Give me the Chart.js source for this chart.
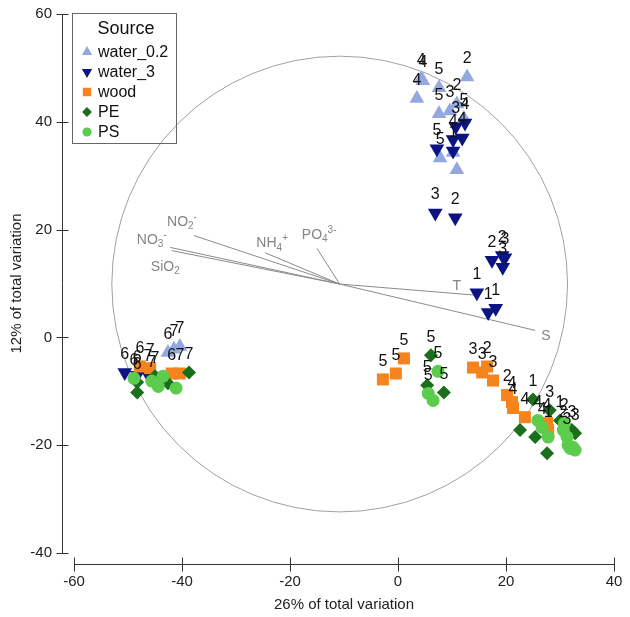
<!DOCTYPE html>
<html>
<head>
<meta charset="utf-8">
<script src="https://cdn.jsdelivr.net/npm/chart.js@4.4.1/dist/chart.umd.min.js"></script>
<style>
  html, body { margin: 0; padding: 0; background: #fff; }
  canvas { display: block; }
</style>
</head>
<body>
<canvas id="pcaChart" width="630" height="617"></canvas>
<script>
// sample scores: [axis1, axis2, sample id]
const water02 = [
  [12.8, 48.3, "2"], [4.6, 47.6, "4"], [4.3, 48.0, "4"], [3.5, 44.3, "4"],
  [7.6, 46.3, "5"], [7.6, 41.5, "5"], [9.6, 42.0, "3"], [10.9, 43.3, "2"],
  [12.2, 40.6, "5"], [7.8, 33.3, "5"], [10.2, 34.3, ""], [10.9, 31.1, ""],
  [-42.6, -2.8, "6"], [-41.5, -2.2, "7"], [-40.4, -1.7, "7"]
];
const water3 = [
  [12.4, 39.8, "4"], [10.7, 39.1, "3"], [11.9, 37.0, "4"], [10.2, 36.7, "4"],
  [7.2, 35.0, "5"], [10.2, 34.6, "1"],
  [6.9, 23.1, "3"], [10.6, 22.2, "2"], [17.4, 14.3, "2"], [19.3, 15.2, "2"],
  [19.8, 14.8, "3"], [19.4, 13.0, "3"], [14.6, 8.3, "1"], [16.7, 4.6, "1"],
  [18.1, 5.4, "1"],
  [-50.6, -6.5, "6"], [-48.3, -7.0, "6"], [-46.3, -6.9, "7"]
];
const wood = [
  [-47.8, -5.4, "6"], [-45.9, -5.7, "7"], [-41.9, -6.7, "6"], [-40.4, -6.7, "7"],
  [-2.8, -7.8, "5"], [-0.4, -6.7, "5"], [1.1, -3.9, "5"],
  [13.9, -5.6, "3"], [15.6, -6.5, "3"], [16.5, -5.4, "2"], [17.6, -8.0, "3"],
  [20.2, -10.7, "2"], [21.1, -12.0, "4"], [21.3, -13.1, "4"], [23.5, -14.8, "4"],
  [27.6, -15.9, "4"], [27.8, -17.2, "1"]
];
const pe = [
  [-48.3, -8.3, "6"], [-48.3, -10.2, ""], [-42.6, -8.5, ""], [-38.7, -6.5, "7"],
  [-45.0, -7.2, "7"],
  [6.1, -3.3, "5"], [5.4, -8.9, "5"], [8.5, -10.2, "5"],
  [25.0, -11.5, "1"], [22.6, -17.2, ""], [25.4, -18.5, ""], [27.6, -21.5, ""],
  [28.1, -13.5, "3"], [30.0, -15.4, "1"], [32.2, -17.2, "3"], [32.8, -17.8, "3"]
];
const ps = [
  [-48.9, -7.6, "6"], [-45.6, -8.1, "7"], [-44.4, -9.1, ""], [-43.5, -7.2, ""],
  [-41.1, -9.4, ""],
  [7.4, -6.3, "5"], [5.6, -10.4, "5"], [6.5, -11.7, ""],
  [25.9, -15.4, "4"], [26.7, -16.7, "4"], [27.8, -18.5, ""], [30.6, -17.2, "2"],
  [31.3, -18.5, "3"], [31.5, -20.0, ""], [31.9, -20.6, ""], [32.4, -20.4, ""],
  [32.8, -20.9, ""], [30.8, -16.0, "2"]
];

const groupNames = ["water_0.2", "water_3", "wood", "PE", "PS"];
const groupData = [water02, water3, wood, pe, ps];
const groupColors = ["#93a8e0", "#0b1480", "#f5841f", "#1b6e1b", "#5ccc4c"];
const groupShapes = ["triangle", "triangle", "rect", "rectRot", "circle"];
const groupRotation = [0, 180, 0, 0, 0];
const groupRadius = [8.5, 8.5, 8.5, 7, 6.5];

// environmental vectors (correlation circle)
const circleCentre = [-10.8, 9.9];
const circleRadius = 42.2;
const vecEnds = [
  [-37.8, 18.9], [-42.2, 16.7], [-41.9, 16.1], [-24.6, 15.7],
  [-15.0, 16.5], [14.8, 7.8], [25.4, 1.3]
];
const vecLabels = [
  [["NO", ""], ["2", "sub"], ["-", "sup"]],
  [["NO", ""], ["3", "sub"], ["-", "sup"]],
  [["SiO", ""], ["2", "sub"]],
  [["NH", ""], ["4", "sub"], ["+", "sup"]],
  [["PO", ""], ["4", "sub"], ["3-", "sup"]],
  [["T", ""]],
  [["S", ""]]
];
const vecLabelPos = [
  [-40.0, 21.4], [-45.6, 18.0], [-43.1, 13.1], [-23.3, 17.4],
  [-14.6, 19.0], [10.9, 9.6], [27.4, 0.2]
];

const FONT = "'Liberation Sans', Arial, sans-serif";
Chart.defaults.font.family = FONT;

function drawRichText(ctx, parts, cx, cy, size) {
  const small = Math.round(size * 0.7);
  let total = 0;
  parts.forEach(p => {
    ctx.font = (p[1] ? small : size) + "px " + FONT;
    total += ctx.measureText(p[0]).width;
  });
  let x = cx - total / 2;
  ctx.textAlign = "left";
  ctx.textBaseline = "middle";
  parts.forEach(p => {
    ctx.font = (p[1] ? small : size) + "px " + FONT;
    let dy = 0;
    if (p[1] === "sub") dy = size * 0.3;
    if (p[1] === "sup") dy = -size * 0.35;
    ctx.fillText(p[0], x, cy + dy);
    x += ctx.measureText(p[0]).width;
  });
}

const biplotPlugin = {
  id: "biplot",
  beforeDatasetsDraw(chart) {
    const { ctx, scales: { x, y } } = chart;
    const ox = x.getPixelForValue(circleCentre[0]);
    const oy = y.getPixelForValue(circleCentre[1]);
    const r = x.getPixelForValue(circleCentre[0] + circleRadius) - ox;
    ctx.save();
    ctx.strokeStyle = "#a0a0a0";
    ctx.lineWidth = 1;
    ctx.beginPath();
    ctx.arc(ox, oy, r, 0, Math.PI * 2);
    ctx.stroke();
    ctx.strokeStyle = "#8a8a8a";
    vecEnds.forEach(e => {
      ctx.beginPath();
      ctx.moveTo(ox, oy);
      ctx.lineTo(x.getPixelForValue(e[0]), y.getPixelForValue(e[1]));
      ctx.stroke();
    });
    ctx.fillStyle = "#858585";
    vecLabels.forEach((parts, i) => {
      drawRichText(ctx, parts, x.getPixelForValue(vecLabelPos[i][0]),
        y.getPixelForValue(vecLabelPos[i][1]), 14);
    });
    ctx.restore();
  },
  afterDatasetsDraw(chart) {
    const { ctx } = chart;
    ctx.save();
    ctx.fillStyle = "#111";
    ctx.font = "16px " + FONT;
    ctx.textAlign = "center";
    ctx.textBaseline = "middle";
    chart.data.datasets.forEach((ds, i) => {
      const meta = chart.getDatasetMeta(i);
      meta.data.forEach((pt, j) => {
        const id = groupData[i][j][2];
        if (id) ctx.fillText(id, pt.x, pt.y - 18);
      });
    });
    ctx.restore();
  },
  afterDraw(chart) {
    const { ctx, chartArea, scales: { x, y } } = chart;
    ctx.save();
    // detached axes
    ctx.strokeStyle = "#333";
    ctx.lineWidth = 1;
    const ax = Math.round(chartArea.left - 12) + 0.5;
    const ay = Math.round(chartArea.bottom + 11) + 0.5;
    ctx.beginPath();
    ctx.moveTo(ax, y.getPixelForValue(60));
    ctx.lineTo(ax, y.getPixelForValue(-40));
    y.ticks.forEach(t => {
      const py = Math.round(y.getPixelForValue(t.value)) + 0.5;
      ctx.moveTo(ax - 6, py);
      ctx.lineTo(ax + 6, py);
    });
    ctx.moveTo(x.getPixelForValue(-60), ay);
    ctx.lineTo(x.getPixelForValue(40), ay);
    x.ticks.forEach(t => {
      const px = Math.round(x.getPixelForValue(t.value)) + 0.5;
      ctx.moveTo(px, ay - 7);
      ctx.lineTo(px, ay + 7);
    });
    ctx.stroke();

    // legend box
    ctx.strokeStyle = "#666";
    ctx.strokeRect(72.5, 13.5, 104, 130);
    ctx.fillStyle = "#111";
    ctx.font = "18px " + FONT;
    ctx.textAlign = "center";
    ctx.textBaseline = "middle";
    ctx.fillText("Source", 126, 29);
    ctx.font = "16px " + FONT;
    ctx.textAlign = "left";
    groupNames.forEach((name, i) => {
      const rowY = 52 + i * 20;
      ctx.fillStyle = groupColors[i];
      Chart.helpers.drawPoint(ctx, {
        pointStyle: groupShapes[i],
        rotation: groupRotation[i],
        radius: groupRadius[i] * 0.7,
        borderWidth: 0
      }, 87, rowY);
      ctx.fillStyle = "#111";
      ctx.fillText(name, 98, rowY + 1);
    });
    ctx.restore();
  }
};

const datasets = groupNames.map((name, i) => ({
  label: name,
  data: groupData[i].map(p => ({ x: p[0], y: p[1] })),
  pointStyle: groupShapes[i],
  rotation: groupRotation[i],
  radius: groupRadius[i],
  backgroundColor: groupColors[i],
  borderColor: groupColors[i],
  borderWidth: 0,
  order: groupNames.length - i
}));

function noPad(s) {
  s.paddingTop = 0;
  s.paddingBottom = 0;
  s.paddingLeft = 0;
  s.paddingRight = 0;
}

new Chart(document.getElementById("pcaChart"), {
  type: "scatter",
  data: { datasets: datasets },
  options: {
    responsive: false,
    animation: false,
    layout: { autoPadding: false, padding: { top: 14, right: 16, left: 0, bottom: 0 } },
    plugins: { legend: { display: false }, tooltip: { enabled: false } },
    scales: {
      x: {
        type: "linear",
        min: -60, max: 40,
        ticks: { stepSize: 20, color: "#222", font: { size: 15 }, padding: 20 },
        grid: { display: false, drawTicks: false },
        border: { display: false },
        title: {
          display: true, text: "26% of total variation", color: "#222",
          font: { size: 15 }, padding: { top: 0, bottom: 3 }
        },
        afterFit: s => { s.height = 64; noPad(s); }
      },
      y: {
        type: "linear",
        min: -40, max: 60,
        ticks: { stepSize: 20, color: "#222", font: { size: 15 }, padding: 22 },
        grid: { display: false, drawTicks: false },
        border: { display: false },
        title: {
          display: true, text: "12% of total variation", color: "#222",
          font: { size: 15 }, padding: { top: 8, bottom: 0 }
        },
        afterFit: s => { s.width = 74; noPad(s); }
      }
    }
  },
  plugins: [biplotPlugin]
});
</script>
</body>
</html>
